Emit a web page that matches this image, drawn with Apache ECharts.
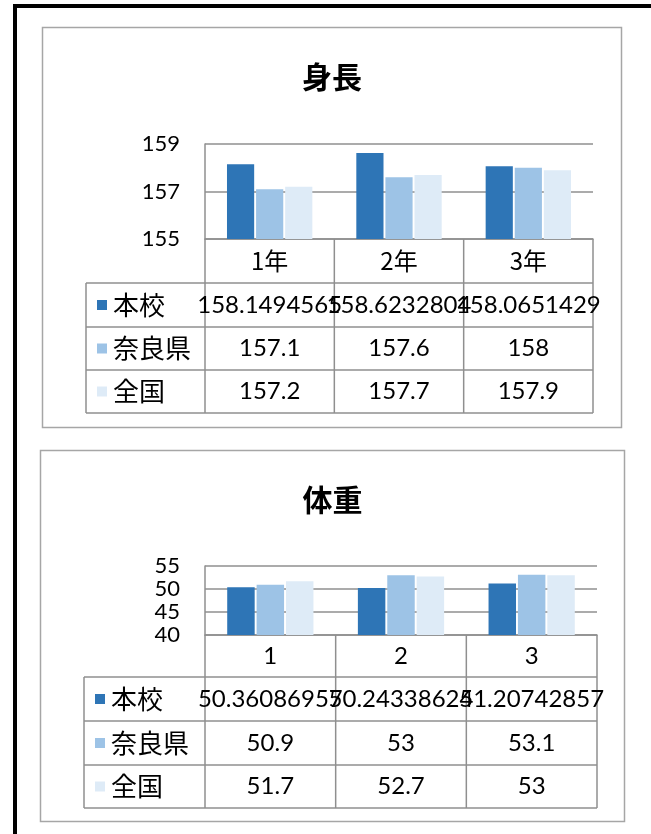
<!DOCTYPE html>
<html>
<head>
<meta charset="utf-8">
<script src="https://cdn.jsdelivr.net/npm/echarts@6/dist/echarts.min.js"></script>
<style>
html,body{margin:0;padding:0;background:#fff}
#main{width:651px;height:834px}
</style>
</head>
<body>
<div id="main"></div>
<script>
// 系列名・色
var seriesNames = ['本校', '奈良県', '全国'];
var seriesColors = ['#2E75B6', '#9DC3E6', '#DEEBF7'];

// 身長
var heightCats = ['1年', '2年', '3年'];
var heightSchool = [158.1494565, 158.6232804, 158.0651429];
var heightNara = [157.1, 157.6, 158];
var heightJapan = [157.2, 157.7, 157.9];

// 体重
var weightCats = ['1', '2', '3'];
var weightSchool = [50.36086957, 50.24338624, 51.20742857];
var weightNara = [50.9, 53, 53.1];
var weightJapan = [51.7, 52.7, 53];

var numFont = 'Lato, "Open Sans", sans-serif';
var jpFont = '"Noto Sans CJK JP", sans-serif';
var lineColor = '#8f8f8f';

// パネルごとの配置
var panels = [
    {
        title: '身長', cats: heightCats, catFont: jpFont,
        data: [heightSchool, heightNara, heightJapan],
        box: {x: 42.5, y: 27.5, w: 579, h: 400}, titleY: 77,
        grid: {left: 205, top: 144, width: 388, height: 95},
        min: 155, max: 159, interval: 2,
        tableLeft: 86, rows: [44, 44, 43, 43]
    },
    {
        title: '体重', cats: weightCats, catFont: numFont,
        data: [weightSchool, weightNara, weightJapan],
        box: {x: 40.5, y: 450.5, w: 584, h: 371}, titleY: 500,
        grid: {left: 205, top: 566, width: 392, height: 69},
        min: 40, max: 55, interval: 5,
        tableLeft: 84, rows: [42, 44, 44, 43]
    }
];

var chart = echarts.init(document.getElementById('main'));

var grids = [], xAxes = [], yAxes = [], series = [];
panels.forEach(function (p, pi) {
    grids.push({left: p.grid.left, top: p.grid.top, width: p.grid.width, height: p.grid.height});
    xAxes.push({
        type: 'category', gridIndex: pi, data: p.cats,
        axisLine: {show: true, lineStyle: {color: lineColor, width: 1.5}},
        axisTick: {show: false}, axisLabel: {show: false}
    });
    yAxes.push({
        type: 'value', gridIndex: pi, min: p.min, max: p.max, interval: p.interval,
        axisLine: {show: true, lineStyle: {color: lineColor, width: 1.5}},
        axisTick: {show: false},
        axisLabel: {color: '#000', fontSize: 22, fontFamily: numFont, margin: 25},
        splitLine: {lineStyle: {color: lineColor, width: 1.5}}
    });
    p.data.forEach(function (vals, si) {
        series.push({
            type: 'bar', name: seriesNames[si], xAxisIndex: pi, yAxisIndex: pi,
            data: vals, barGap: '7%', barCategoryGap: '34%',
            itemStyle: {color: seriesColors[si]},
            silent: true, animation: false
        });
    });
});

chart.setOption({
    animation: false,
    grid: grids, xAxis: xAxes, yAxis: yAxes, series: series
});

// 枠・タイトル・データテーブル
var g = [];
g.push({type: 'rect', shape: {x: 15, y: 6, width: 700, height: 900},
    style: {fill: 'none', stroke: '#000', lineWidth: 4}});

function hline(x1, x2, y) {
    g.push({type: 'line', shape: {x1: x1, y1: y, x2: x2, y2: y}, style: {stroke: lineColor, lineWidth: 1.5}});
}
function vline(x, y1, y2) {
    g.push({type: 'line', shape: {x1: x, y1: y1, x2: x, y2: y2}, style: {stroke: lineColor, lineWidth: 1.5}});
}

panels.forEach(function (p, pi) {
    g.push({type: 'rect', shape: {x: p.box.x, y: p.box.y, width: p.box.w, height: p.box.h},
        style: {fill: 'none', stroke: '#a6a6a6', lineWidth: 1.5}});
    g.push({type: 'text', x: p.box.x + p.box.w / 2, y: p.titleY,
        style: {text: p.title, font: 'bold 30px ' + jpFont, fill: '#000', align: 'center', verticalAlign: 'middle'}});

    // 軸からセルの位置を求める
    var centers = p.cats.map(function (c) { return chart.convertToPixel({xAxisIndex: pi}, c); });
    var band = centers[1] - centers[0];
    var bottom = chart.convertToPixel({yAxisIndex: pi}, p.min);
    var left = centers[0] - band / 2;
    var right = centers[centers.length - 1] + band / 2;

    var ys = [bottom];
    p.rows.forEach(function (h) { ys.push(ys[ys.length - 1] + h); });
    var tableBottom = ys[ys.length - 1];

    // 罫線
    for (var r = 1; r < ys.length; r++) hline(p.tableLeft, right, ys[r]);
    vline(p.tableLeft, ys[1], tableBottom);
    for (var k = 0; k <= p.cats.length; k++) vline(left + k * band, bottom, tableBottom);

    // 見出し行
    p.cats.forEach(function (c, ci) {
        g.push({type: 'text', x: centers[ci], y: (ys[0] + ys[1]) / 2,
            style: {text: c, font: '24px ' + p.catFont, fill: '#000', align: 'center', verticalAlign: 'middle'}});
    });

    // データ行
    p.data.forEach(function (vals, si) {
        var cy = (ys[si + 1] + ys[si + 2]) / 2;
        g.push({type: 'rect', shape: {x: p.tableLeft + 11, y: cy - 5, width: 10, height: 10},
            style: {fill: seriesColors[si]}});
        g.push({type: 'text', x: p.tableLeft + 27, y: cy,
            style: {text: seriesNames[si], font: '26px ' + jpFont, fill: '#000', align: 'left', verticalAlign: 'middle'}});
        vals.forEach(function (v, ci) {
            g.push({type: 'text', x: centers[ci], y: cy,
                style: {text: String(v), font: '24px ' + numFont, fill: '#000', align: 'center', verticalAlign: 'middle'}});
        });
    });
});

chart.setOption({graphic: {elements: g}});
</script>
</body>
</html>
